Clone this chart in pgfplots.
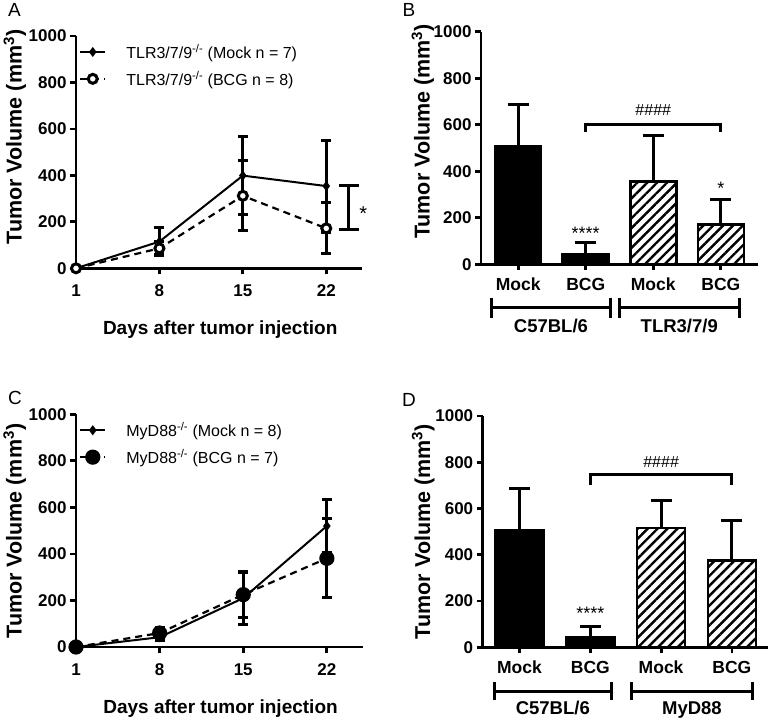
\documentclass[border=0pt]{standalone}
\usepackage{fontspec}
\setmainfont{Liberation Sans}
\usepackage{pgfplots}
\pgfplotsset{compat=1.18}
\usetikzlibrary{patterns.meta}
\newcommand{\fs}[1]{\fontsize{#1}{#1}\selectfont}
\pgfplotsset{
 base/.style={
  scale only axis, clip=false,
  axis x line*=bottom, axis y line*=left,
  axis line style={line width=2.8pt, -},
  tick align=outside, major tick length=6pt,
  tick style={line width=2.8pt, black},
  ymin=0, ymax=1000, ytick={0,200,...,1000},
  /pgf/number format/assume math mode=true,
  /pgf/number format/1000 sep={},
  tick label style={font=\bfseries\fs{17}},
 },
 linepanel/.style={base, xmin=1, xmax=25, xtick={1,8,15,22},
  x tick label style={yshift=-7pt},
  legend style={draw=none, fill=none, font=\fs{16}, inner sep=0pt, row sep=7pt, column sep=18pt, nodes={inner sep=2pt, anchor=west}},
  legend cell align=left,
  legend image code/.code={\draw[mark repeat=2, mark phase=2, ##1] plot coordinates {(0pt,0pt) (12.5pt,0pt) (25pt,0pt)};},
 },
 barpanel/.style={base, xtick={0,1,2,3}, xticklabels={Mock,BCG,Mock,BCG},
  x tick label style={font=\bfseries\fs{17.5}, yshift=-4pt}},
 ebar/.style={error bars/.cd, y dir=both, y explicit, error bar style={line width=3pt, solid},
  error mark options={rotate=90, mark size=5pt, line width=3pt, solid}},
 bbar/.style={ybar, bar width=0.68, bar shift=0pt, draw=black, line width=2.6pt,
  error bars/.cd, y dir=plus, y explicit, error bar style={line width=3pt, black},
  error mark options={rotate=90, mark size=10.5pt, line width=3pt, black}},
 mock/.style={black, line width=2pt, mark=diamond*, mark size=3.4pt, mark options={solid}},
}
\begin{document}
\begin{tikzpicture}
\path[use as bounding box] (0,0) rectangle (770pt,721pt);
\node[font=\fs{19}] at (14.5pt,711pt) {A};
\node[font=\fs{19}] at (409pt,711pt) {B};
\node[font=\fs{19}] at (15pt,323.5pt) {C};
\node[font=\fs{19}] at (409pt,321pt) {D};

% ---------------- A
\begin{axis}[linepanel, at={(76pt,452.7pt)}, anchor=south west, width=286pt, height=232.3pt,
  legend style={at={(axis cs:1.25,975)}, anchor=north west}]
\addplot[mock, ebar] coordinates {(1,0) +- (0,0) (8,115) +- (0,60) (15,399) +- (0,167) (22,354) +- (0,198)};
\addlegendentry{TLR3/7/9\textsuperscript{-/-} (Mock n = 7)}
\addplot[black, line width=2.2pt, dash pattern=on 7pt off 5pt, mark=*, mark size=4.5pt,
  mark options={solid, fill=white, line width=3pt}, ebar] coordinates {(1,0) +- (0,0) (8,86) +- (0,28) (15,312) +- (0,150) (22,172) +- (0,110)};
\addlegendentry{TLR3/7/9\textsuperscript{-/-} (BCG n = 8)}
\draw[line width=3pt] (axis cs:23.05,356) -- (axis cs:24.71,356) (axis cs:23.88,356) -- (axis cs:23.88,165) (axis cs:23.05,165) -- (axis cs:24.71,165);
\node[font=\fs{20}, anchor=base] at (axis cs:25.1,205) {*};
\node[font=\bfseries\fs{19}, anchor=base] at (axis cs:13.1,-286) {Days after tumor injection};
\node[font=\bfseries\fs{21.5}, rotate=90] at (axis cs:-4.13,565) {Tumor Volume (mm\textsuperscript{3})};
\end{axis}

% ---------------- B
\begin{axis}[barpanel, at={(481pt,456.7pt)}, anchor=south west, width=277pt, height=232.6pt, xmin=-0.55, xmax=3.55]
\addplot[fill=black, bbar] coordinates {(0,507) +- (0,178) (1,42) +- (0,50)};
\addplot[fill=white, postaction={pattern={Lines[angle=45,distance=7pt,line width=2.4pt]}}, bbar] coordinates {(2,355) +- (0,200) (3,170) +- (0,108)};
\draw[line width=3pt] (axis cs:1,570) -- (axis cs:1,603) -- (axis cs:3,603) -- (axis cs:3,570);
\node[font=\fs{16}, anchor=base] at (axis cs:2,639) {\#\#\#\#};
\node[font=\fs{18}, anchor=base] at (axis cs:1,106) {****};
\node[font=\fs{18}, anchor=base] at (axis cs:3,300) {*};
\draw[line width=3pt] (axis cs:-0.40,-187) -- (axis cs:1.37,-187) (axis cs:-0.40,-144) -- (axis cs:-0.40,-230) (axis cs:1.37,-144) -- (axis cs:1.37,-230);
\draw[line width=3pt] (axis cs:1.50,-187) -- (axis cs:3.27,-187) (axis cs:1.50,-144) -- (axis cs:1.50,-230) (axis cs:3.27,-144) -- (axis cs:3.27,-230);
\node[font=\bfseries\fs{18.5}, anchor=base] at (axis cs:0.485,-294) {C57BL/6};
\node[font=\bfseries\fs{18.5}, anchor=base] at (axis cs:2.385,-294) {TLR3/7/9};
\node[font=\bfseries\fs{21.5}, rotate=90] at (axis cs:-1.41,571) {Tumor Volume (mm\textsuperscript{3})};
\end{axis}

% ---------------- C
\begin{axis}[linepanel, at={(76pt,74pt)}, anchor=south west, width=286.7pt, height=232.7pt,
  legend style={at={(axis cs:1.25,975)}, anchor=north west}]
\addplot[mock, ebar] coordinates {(1,0) +- (0,0) (8,42) +- (0,15) (15,210) +- (0,112) (22,520) +- (0,112)};
\addlegendentry{MyD88\textsuperscript{-/-} (Mock n = 8)}
\addplot[black, line width=2.2pt, dash pattern=on 7pt off 5pt, mark=*, mark size=6.5pt,
  mark options={solid}, ebar] coordinates {(1,0) +- (0,0) (8,60) +- (0,22) (15,225) +- (0,100) (22,381) +- (0,170)};
\addlegendentry{MyD88\textsuperscript{-/-} (BCG n = 7)}
\node[font=\bfseries\fs{19}, anchor=base] at (axis cs:13.1,-286) {Days after tumor injection};
\node[font=\bfseries\fs{21.5}, rotate=90] at (axis cs:-4.13,498) {Tumor Volume (mm\textsuperscript{3})};
\end{axis}

% ---------------- D
\begin{axis}[barpanel, at={(482.7pt,73.7pt)}, anchor=south west, width=285.3pt, height=231.3pt, xmin=-0.52, xmax=3.51]
\addplot[fill=black, bbar] coordinates {(0,507) +- (0,178) (1,42) +- (0,50)};
\addplot[fill=white, postaction={pattern={Lines[angle=45,distance=7pt,line width=2.4pt]}}, bbar] coordinates {(2,515) +- (0,120) (3,375) +- (0,175)};
\draw[line width=3pt] (axis cs:1,702) -- (axis cs:1,745) -- (axis cs:3,745) -- (axis cs:3,702);
\node[font=\fs{16}, anchor=base] at (axis cs:2,778) {\#\#\#\#};
\node[font=\fs{18}, anchor=base] at (axis cs:1,119) {****};
\draw[line width=3pt] (axis cs:-0.36,-190) -- (axis cs:1.30,-190) (axis cs:-0.36,-151) -- (axis cs:-0.36,-229) (axis cs:1.30,-151) -- (axis cs:1.30,-229);
\draw[line width=3pt] (axis cs:1.58,-190) -- (axis cs:3.29,-190) (axis cs:1.58,-151) -- (axis cs:1.58,-229) (axis cs:3.29,-151) -- (axis cs:3.29,-229);
\node[font=\bfseries\fs{18.5}, anchor=base] at (axis cs:0.47,-291) {C57BL/6};
\node[font=\bfseries\fs{18.5}, anchor=base] at (axis cs:2.435,-291) {MyD88};
\node[font=\bfseries\fs{21.5}, rotate=90] at (axis cs:-1.36,500) {Tumor Volume (mm\textsuperscript{3})};
\end{axis}
\end{tikzpicture}
\end{document}
